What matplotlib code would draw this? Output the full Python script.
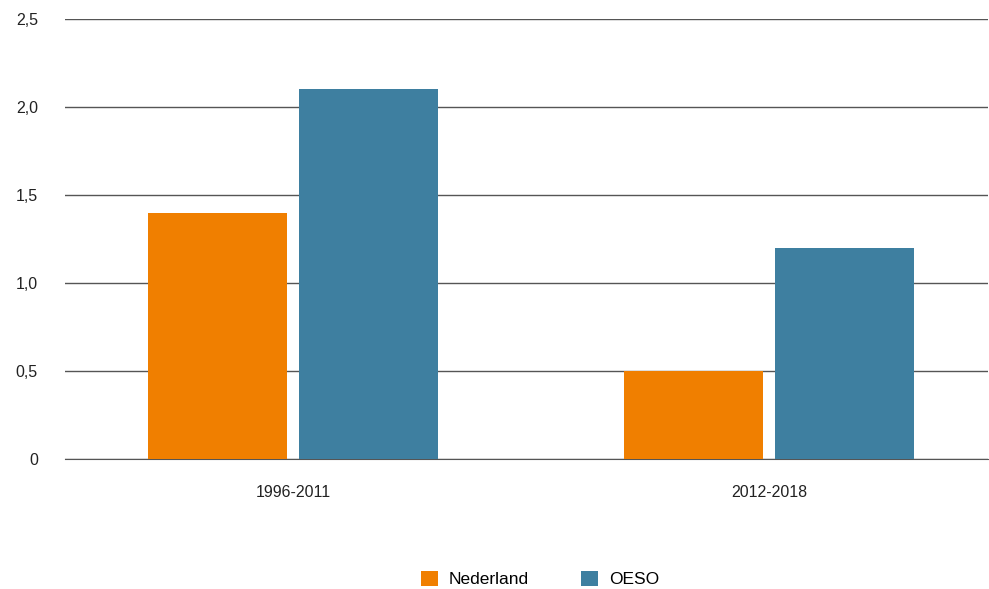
import numpy as np
import matplotlib.pyplot as plt
from matplotlib.ticker import FuncFormatter

plt.rcParams['font.family'] = ['Liberation Sans', 'DejaVu Sans']

# data
periods = ['1996-2011', '2012-2018']
nederland = [1.4, 0.5]
oeso = [2.1, 1.2]

orange = '#F07F00'
blue = '#3E7FA0'

fig = plt.figure(figsize=(9.89, 5.89), dpi=100)
ax = fig.add_axes([65/989, 130/589, 923/989, 440/589])

x = np.arange(len(periods))
w = 0.292
off = 0.159
ax.bar(x - off, nederland, w, color=orange, label='Nederland', zorder=3)
ax.bar(x + off, oeso, w, color=blue, label='OESO', zorder=3)

ax.set_xlim(-0.479, 1.46)
ax.set_ylim(0, 2.5)
ax.set_yticks(np.arange(0, 2.51, 0.5))
ax.yaxis.set_major_formatter(FuncFormatter(lambda v, p: '0' if v == 0 else f'{v:.1f}'.replace('.', ',')))
ax.set_xticks(x)
ax.set_xticklabels(periods)

ax.grid(axis='y', color='#555555', linewidth=1, zorder=0)
for s in ['top', 'right', 'left']:
    ax.spines[s].set_visible(False)
ax.spines['bottom'].set_color('#555555')
ax.tick_params(axis='both', length=0, labelsize=11.5, colors='#222222')
ax.tick_params(axis='y', pad=19.5)
ax.tick_params(axis='x', pad=19)

fig.legend(loc='center', bbox_to_anchor=(540/989, 1 - 579/589), ncol=2,
           frameon=False, fontsize=12.5, handlelength=1.0, handleheight=1.0,
           columnspacing=3.0, handletextpad=0.6)

plt.savefig('out.png', dpi=100)
